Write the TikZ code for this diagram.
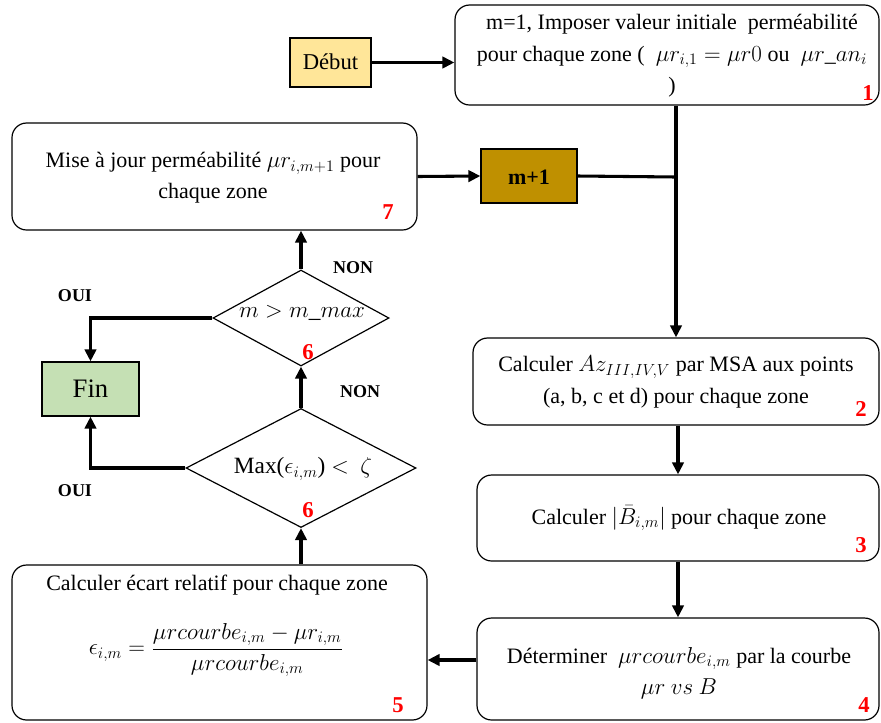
\documentclass[tikz,border=0pt]{standalone}
\usepackage{fontspec}
\setmainfont{Liberation Serif}
\usetikzlibrary{arrows.meta,shapes.geometric,calc}
\definecolor{debutfill}{HTML}{FFE699}
\definecolor{mfill}{HTML}{BF9000}
\definecolor{finfill}{HTML}{C5E0B4}
\begin{document}
\begin{tikzpicture}[x=0.75pt,y=-0.75pt,
  box/.style={draw,line width=0.9pt,rounded corners=11pt,inner sep=0pt},
  sq/.style={draw,line width=0.9pt,inner sep=0pt},
  dia/.style={draw,line width=0.9pt,diamond,inner sep=0pt},
  txt/.style={align=center,inner sep=0pt,font=\rmfamily\fontsize{16.5}{23.5}\selectfont},
  num/.style={text=red,inner sep=0pt,font=\rmfamily\bfseries\fontsize{17}{17}\selectfont},
  lab/.style={inner sep=0pt,font=\rmfamily\bfseries\fontsize{13.5}{14}\selectfont},
  conn/.style={line width=2.3pt},
  arr/.style={conn,-{Triangle[length=9pt,width=8.5pt]}}]
\useasboundingbox (0,0) rectangle (881,722);
% boxes
\node[sq,fill=debutfill,minimum width=81*0.75pt,minimum height=49*0.75pt] (debut) at (330.5,62.5) {};
\node[txt,font=\rmfamily\fontsize{17}{20}\selectfont] (debutt) at (330.5,62) {Début};
\node[box,minimum width=424*0.75pt,minimum height=100*0.75pt] (b1) at (667,55) {};
\node[txt] (b1t) at (672,56) {m=1, Imposer valeur initiale\ \ perméabilité\\pour chaque zone (\ \ $\mu r_{i,1} = \mu r0$ ou\ \ $\mu r\_an_i$\\)};
\node[num] (n1) at (868,93) {1};
\node[sq,fill=mfill,minimum width=96*0.75pt,minimum height=54*0.75pt] (mp) at (529,176) {};
\node[txt,font=\rmfamily\bfseries\fontsize{16.5}{20}\selectfont] (mpt) at (529,177) {m+1};
\node[box,minimum width=405*0.75pt,minimum height=107*0.75pt] (b7) at (214.5,176.5) {};
\node[txt] (b7t) at (213,178) {Mise à jour perméabilité $\mu r_{i,m+1}$ pour\\chaque zone};
\node[num] (n7) at (388,212) {7};
\node[box,minimum width=406*0.75pt,minimum height=87*0.75pt] (b2) at (676,381.5) {};
\node[txt] (b2t) at (676,382) {Calculer $Az_{III,IV,V}$ par MSA aux points\\(a, b, c et d) pour chaque zone};
\node[num] (n2) at (861,409) {2};
\node[box,minimum width=402*0.75pt,minimum height=86*0.75pt] (b3) at (678,518) {};
\node[txt] (b3t) at (679,518) {Calculer $\bigl|\bar{B}_{i,m}\bigr|$ pour chaque zone};
\node[num] (n3) at (861,545) {3};
\node[box,minimum width=402*0.75pt,minimum height=102*0.75pt] (b4) at (678,669) {};
\node[txt] (b4t) at (679,673) {Déterminer\ \ $\mu rcourbe_{i,m}$ par la courbe\\$\mu r\ vs\ B$};
\node[num] (n4) at (864,705) {4};
\node[box,minimum width=415*0.75pt,minimum height=155*0.75pt] (b5) at (219.5,642.5) {};
\node[txt] (b5t) at (217,585) {Calculer écart relatif pour chaque zone};
\node[txt,font=\fontsize{18.5}{22}\selectfont] (b5f) at (216,650) {$\displaystyle \epsilon_{i,m} = \frac{\mu rcourbe_{i,m} - \mu r_{i,m}}{\mu rcourbe_{i,m}}$};
\node[num] (n5) at (398,705) {5};
\node[sq,fill=finfill,minimum width=97*0.75pt,minimum height=54*0.75pt] (fin) at (90.5,389) {};
\node[txt,font=\rmfamily\fontsize{20}{22}\selectfont] (fint) at (90.5,389) {Fin};
\node[dia,minimum width=176*0.75pt,minimum height=96*0.75pt] (d1) at (301,318) {};
\node[txt,font=\fontsize{17.5}{20}\selectfont] (d1t) at (302,313) {$m > m\_max$};
\node[num] (n6a) at (308,352) {6};
\node[dia,minimum width=230*0.75pt,minimum height=119*0.75pt] (d2) at (301,468) {};
\node[txt,font=\rmfamily\fontsize{17.5}{20}\selectfont] (d2t) at (303,469) {Max($\epsilon_{i,m}$) $<$\ \ $\zeta$};
\node[num] (n6b) at (308,510) {6};
% labels
\node[lab] (non1) at (353,268) {NON};
\node[lab] (non2) at (360,392) {NON};
\node[lab] (oui1) at (75,296) {OUI};
\node[lab] (oui2) at (75,491) {OUI};
% connectors
\coordinate (j) at (676,177);
\coordinate (a4) at ($(b4.west)+(0,-9)$);
\draw[arr] (debut.east) -- (debut.east -| b1.west);
\draw[conn] (b1.south -| j) -- (j);
\draw[arr] (j) -- (b2.north -| j);
\draw[conn] (mp.east) -- (j);
\draw[arr] (b7.east) -- (mp.west);
\draw[arr] (b2.south -| b3.north) -- (b3.north);
\draw[arr] (b3.south) -- (b4.north);
\draw[arr] (a4) -- (a4 -| b5.east);
\draw[arr] (d2.south |- b5.north) -- (d2.south);
\draw[arr] (d2.north) -- (d1.south);
\draw[arr] (d1.north) -- (d1.north |- b7.south);
\draw[arr] (d1.west) -| (fin.north);
\draw[arr] (d2.west) -| (fin.south);
\end{tikzpicture}
\end{document}
